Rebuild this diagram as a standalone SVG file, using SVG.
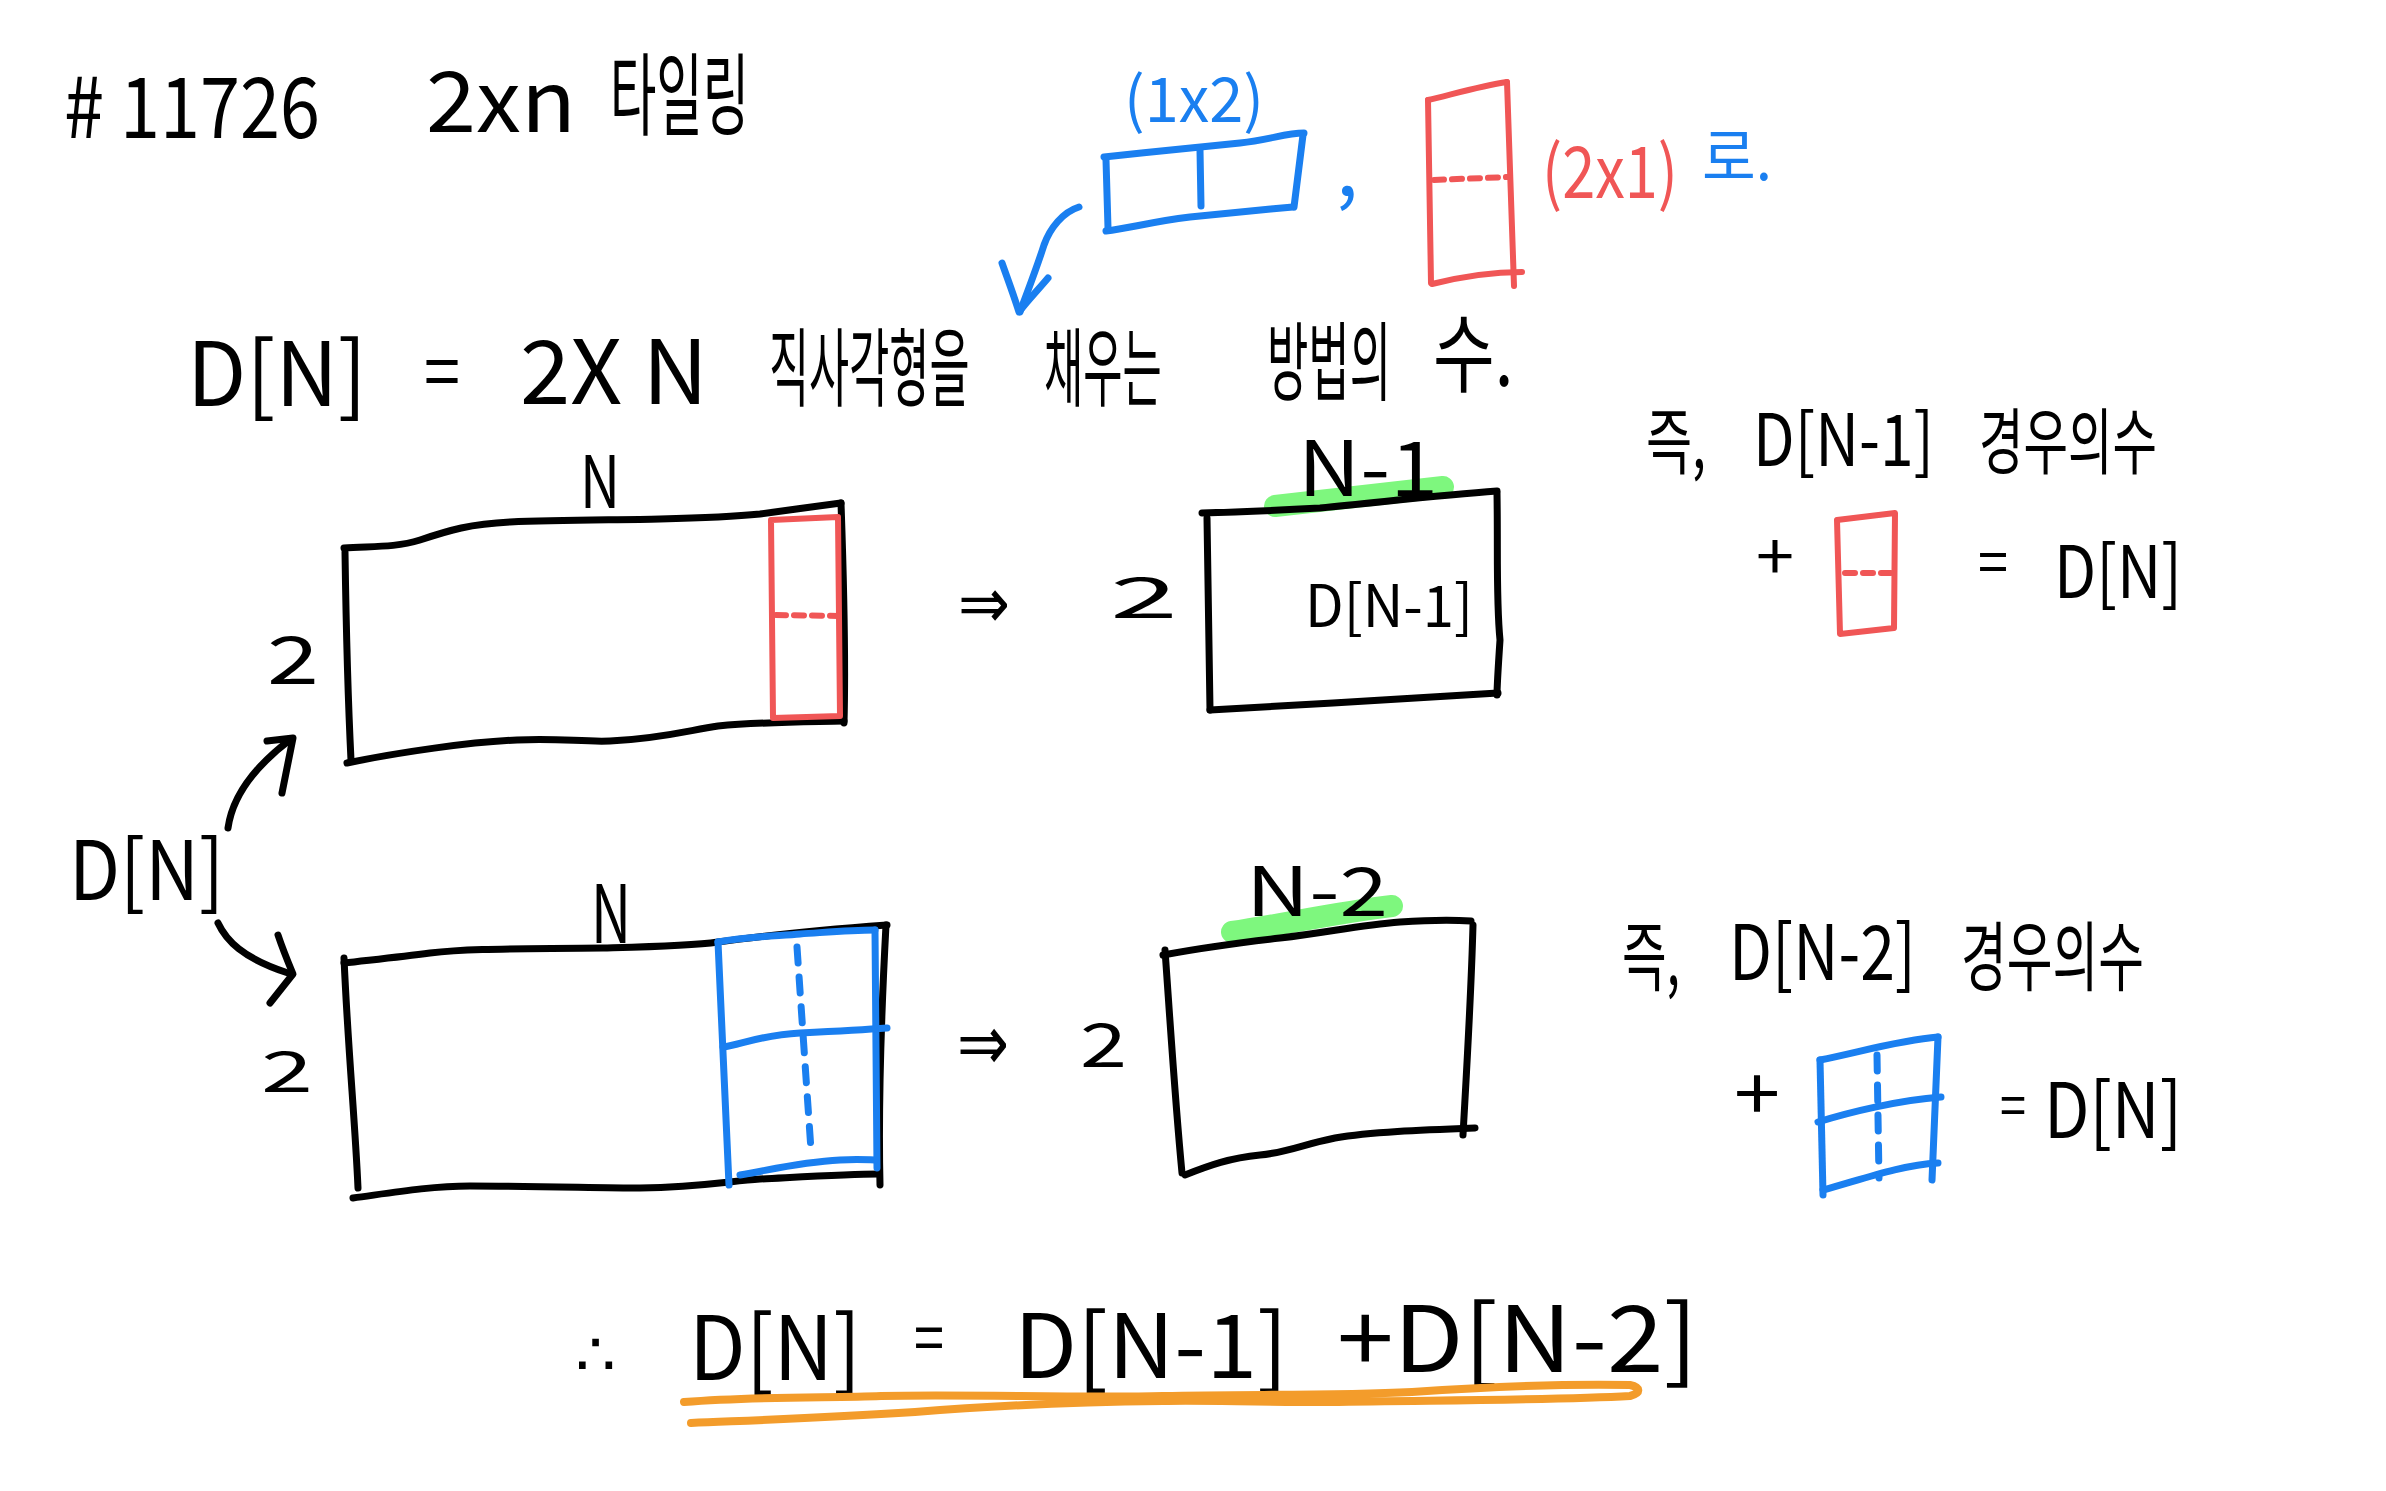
<svg xmlns="http://www.w3.org/2000/svg" width="2386" height="1491" viewBox="0 0 2386 1491">
<style>
.t{font-family:"Noto Sans CJK KR","Noto Sans",sans-serif;fill:#000}
.tb{font-family:"Noto Sans CJK KR","Noto Sans",sans-serif;fill:#1a7ff0}
.tr{font-family:"Noto Sans CJK KR","Noto Sans",sans-serif;fill:#f05656}
.sym{font-family:"DejaVu Sans",sans-serif;fill:#000}
.k{fill:none;stroke:#000;stroke-width:7;stroke-linecap:round;stroke-linejoin:round}
.b{fill:none;stroke:#1a7ff0;stroke-width:7;stroke-linecap:round;stroke-linejoin:round}
.r{fill:none;stroke:#f05656;stroke-width:6;stroke-linecap:round;stroke-linejoin:round}
.g{fill:none;stroke:#7ef77e;stroke-width:22;stroke-linecap:round}
.o{fill:none;stroke:#f39c2b;stroke-width:8;stroke-linecap:round;stroke-linejoin:round}
.dr{stroke-dasharray:10 8}
.db{stroke-dasharray:16 14}
</style>
<rect width="2386" height="1491" fill="#fff"/>

<g id="title">
<text class="t" x="64" y="138" font-size="84" textLength="256" lengthAdjust="spacingAndGlyphs"># 11726</text>
<text class="t" x="426" y="132" font-size="84" textLength="150" lengthAdjust="spacingAndGlyphs">2xn</text>
<text class="t" transform="translate(610,128) scale(0.56,1)" font-size="90">타일링</text>
</g>

<g id="domino-1x2">
<text class="tb" x="1124" y="122" font-size="62" textLength="140" lengthAdjust="spacingAndGlyphs">(1x2)</text>
<path class="b" d="M1104,157 C1150,152 1200,147 1240,143 C1270,140 1285,133 1304,133"/>
<path class="b" d="M1303,135 L1294,207"/>
<path class="b" d="M1106,231 C1130,228 1150,222 1190,217 C1230,213 1260,210 1293,207"/>
<path class="b" d="M1106,160 L1108,228"/>
<path class="b" d="M1200,150 L1201,206"/>
<text class="tb" x="1336" y="196" font-size="80">,</text>
</g>

<g id="domino-2x1">
<path class="r" d="M1428,100 L1431,283"/>
<path class="r" d="M1428,100 C1450,95 1480,86 1507,82"/>
<path class="r" d="M1507,82 L1514,286"/>
<path class="r" d="M1432,284 C1460,277 1490,272 1522,272"/>
<path class="r dr" d="M1434,180 L1508,177"/>
<text class="tr" x="1542" y="198" font-size="72" textLength="136" lengthAdjust="spacingAndGlyphs">(2x1)</text>
<text class="tb" x="1702" y="180" font-size="62" textLength="70" lengthAdjust="spacingAndGlyphs">로.</text>
</g>

<g id="definition">
<text class="t" x="187" y="406" font-size="88" textLength="180" lengthAdjust="spacingAndGlyphs">D[N]</text>
<text class="t" x="424" y="398" font-size="72" textLength="36" lengthAdjust="spacingAndGlyphs">=</text>
<text class="t" x="520" y="404" font-size="88" textLength="188" lengthAdjust="spacingAndGlyphs">2X N</text>
<text class="t" transform="translate(769,400) scale(0.507,1)" font-size="86">직사각형을</text>
<text class="t" transform="translate(1044,400) scale(0.496,1)" font-size="86">채우는</text>
<text class="t" transform="translate(1267,394) scale(0.523,1)" font-size="86">방법의</text>
<text class="t" transform="translate(1433,386) scale(0.78,1)" font-size="86">수.</text>
</g>

<g id="dn-label">
<text class="t" x="69" y="900" font-size="82" textLength="155" lengthAdjust="spacingAndGlyphs">D[N]</text>
</g>

<g id="rect-top">
<path class="k" d="M344,548 C370,546 395,548 420,540 C450,530 470,524 510,522 C560,520 620,520 660,519 C700,518 730,517 760,514 C790,510 810,507 841,503"/>
<path class="k" d="M841,503 C843,560 846,650 844,723"/>
<path class="k" d="M347,763 C400,752 470,742 517,740 C560,738 580,742 610,741 C660,739 690,730 718,726 C760,722 800,722 844,721"/>
<path class="k" d="M345,552 C346,620 348,700 351,760"/>
<path class="r" d="M771,520 L838,517 L840,716 L773,718 Z"/>
<path class="r dr" d="M776,615 L838,616"/>
<text class="t" x="580" y="508" font-size="72" textLength="40" lengthAdjust="spacingAndGlyphs">N</text>
<text class="t" x="267" y="684" font-size="66" textLength="52" lengthAdjust="spacingAndGlyphs">2</text>
</g>

<g id="rect-bottom">
<path class="k" d="M344,963 C370,960 400,957 430,953 C470,948 520,949 603,948 C640,947 690,946 718,942 C760,936 820,930 887,925"/>
<path class="k" d="M886,925 C882,1000 878,1100 880,1185"/>
<path class="k" d="M353,1198 C390,1193 430,1186 470,1186 C540,1186 600,1188 640,1188 C700,1187 730,1181 760,1179 C800,1177 850,1174 878,1174"/>
<path class="k" d="M344,958 C348,1050 355,1120 358,1188"/>
<path class="b" d="M718,942 C750,936 780,936 800,934 C830,932 850,930 875,930"/>
<path class="b" d="M718,942 L729,1185"/>
<path class="b" d="M875,930 L877,1168"/>
<path class="b" d="M723,1047 C740,1045 760,1035 800,1033 C840,1031 860,1030 887,1028"/>
<path class="b" d="M740,1175 C770,1170 800,1162 840,1160 C860,1159 870,1160 875,1160"/>
<path class="b db" d="M797,947 L811,1150"/>
<text class="t" x="591" y="943" font-size="80" textLength="40" lengthAdjust="spacingAndGlyphs">N</text>
<text class="t" x="261" y="1092" font-size="56" textLength="52" lengthAdjust="spacingAndGlyphs">2</text>
</g>

<g id="rect-n1">
<text class="sym" x="958" y="628" font-size="72" textLength="52" lengthAdjust="spacingAndGlyphs">⇒</text>
<text class="t" x="1110" y="618" font-size="56" textLength="68" lengthAdjust="spacingAndGlyphs">2</text>
<path class="g" d="M1275,506 L1443,487"/>
<path class="k" d="M1202,513 C1240,512 1283,510 1320,508 C1383,502 1440,495 1497,491"/>
<path class="k" d="M1497,493 C1498,550 1496,600 1500,640 C1498,670 1497,690 1497,695"/>
<path class="k" d="M1498,693 C1420,698 1300,705 1210,710"/>
<path class="k" d="M1207,518 L1210,710"/>
<text class="t" x="1298" y="496" font-size="76" textLength="140" lengthAdjust="spacingAndGlyphs">N-1</text>
<text class="t" x="1305" y="627" font-size="58" textLength="168" lengthAdjust="spacingAndGlyphs">D[N-1]</text>
</g>

<g id="rect-n2">
<text class="sym" x="957" y="1070" font-size="78" textLength="52" lengthAdjust="spacingAndGlyphs">⇒</text>
<text class="t" x="1080" y="1067" font-size="60" textLength="47" lengthAdjust="spacingAndGlyphs">2</text>
<path class="g" d="M1232,932 C1280,925 1340,912 1392,906"/>
<path class="k" d="M1163,955 C1200,948 1236,943 1280,938 C1330,932 1360,925 1400,922 C1430,920 1455,920 1471,921"/>
<path class="k" d="M1473,925 C1471,1000 1466,1080 1463,1135"/>
<path class="k" d="M1475,1128 C1420,1130 1370,1132 1335,1138 C1300,1145 1290,1152 1260,1155 C1230,1158 1210,1165 1185,1175"/>
<path class="k" d="M1165,950 C1170,1020 1175,1100 1182,1173"/>
<text class="t" x="1246" y="916" font-size="68" textLength="142" lengthAdjust="spacingAndGlyphs">N-2</text>
</g>

<g id="case-n1">
<text class="t" x="1646" y="468" font-size="72" textLength="60" lengthAdjust="spacingAndGlyphs">즉,</text>
<text class="t" x="1753" y="466" font-size="72" textLength="181" lengthAdjust="spacingAndGlyphs">D[N-1]</text>
<text class="t" x="1979" y="468" font-size="72" textLength="178" lengthAdjust="spacingAndGlyphs">경우의수</text>
<text class="t" x="1756" y="580" font-size="64" textLength="38" lengthAdjust="spacingAndGlyphs">+</text>
<path class="r" d="M1837,520 L1895,513 L1894,628 L1840,634 Z"/>
<path class="r dr" d="M1845,573 L1893,573"/>
<text class="t" x="1978" y="584" font-size="60" textLength="30" lengthAdjust="spacingAndGlyphs">=</text>
<text class="t" x="2054" y="598" font-size="72" textLength="128" lengthAdjust="spacingAndGlyphs">D[N]</text>
</g>

<g id="case-n2">
<text class="t" x="1622" y="985" font-size="76" textLength="58" lengthAdjust="spacingAndGlyphs">즉,</text>
<text class="t" x="1729" y="980" font-size="76" textLength="187" lengthAdjust="spacingAndGlyphs">D[N-2]</text>
<text class="t" x="1961" y="985" font-size="76" textLength="183" lengthAdjust="spacingAndGlyphs">경우의수</text>
<text class="t" x="1734" y="1120" font-size="72" textLength="46" lengthAdjust="spacingAndGlyphs">+</text>
<path class="b" d="M1820,1060 C1860,1052 1900,1040 1938,1037"/>
<path class="b" d="M1938,1037 L1932,1180"/>
<path class="b" d="M1820,1060 L1823,1195"/>
<path class="b" d="M1823,1190 C1860,1180 1900,1165 1938,1163"/>
<path class="b" d="M1818,1122 C1850,1112 1900,1100 1941,1097"/>
<path class="b db" d="M1877,1055 L1879,1178"/>
<text class="t" x="2000" y="1126" font-size="56" textLength="26" lengthAdjust="spacingAndGlyphs">=</text>
<text class="t" x="2044" y="1138" font-size="76" textLength="138" lengthAdjust="spacingAndGlyphs">D[N]</text>
</g>

<g id="conclusion">
<text class="sym" x="575" y="1375" font-size="60" textLength="41" lengthAdjust="spacingAndGlyphs">∴</text>
<text class="t" x="689" y="1380" font-size="88" textLength="172" lengthAdjust="spacingAndGlyphs">D[N]</text>
<text class="t" x="914" y="1362" font-size="66" textLength="30" lengthAdjust="spacingAndGlyphs">=</text>
<text class="t" x="1014" y="1378" font-size="88" textLength="274" lengthAdjust="spacingAndGlyphs">D[N-1]</text>
<text class="t" x="1337" y="1372" font-size="92" textLength="361" lengthAdjust="spacingAndGlyphs">+D[N-2]</text>
<path class="o" d="M684,1402 C760,1396 830,1398 881,1396 C960,1394 1080,1398 1163,1396 C1250,1394 1330,1396 1412,1392 C1500,1386 1580,1384 1630,1385 C1640,1387 1642,1393 1630,1396 C1560,1400 1460,1400 1329,1402 C1250,1402 1200,1400 1163,1401"/>
<path class="o" d="M691,1423 C760,1420 820,1418 915,1412 C1000,1405 1080,1402 1163,1401"/>
</g>

<g id="connectors">
<path class="b" d="M1079,207 C1063,212 1050,228 1044,245 C1036,270 1028,290 1020,312"/>
<path class="b" d="M1002,263 C1008,280 1014,296 1019,312 C1028,300 1038,290 1048,278"/>
<path class="k" d="M228,828 C232,800 250,770 291,739"/>
<path class="k" d="M267,741 L293,738 L282,793"/>
<path class="k" d="M218,923 C226,940 242,958 288,973"/>
<path class="k" d="M278,935 C283,950 288,962 293,974 L270,1003"/>
</g>
</svg>
